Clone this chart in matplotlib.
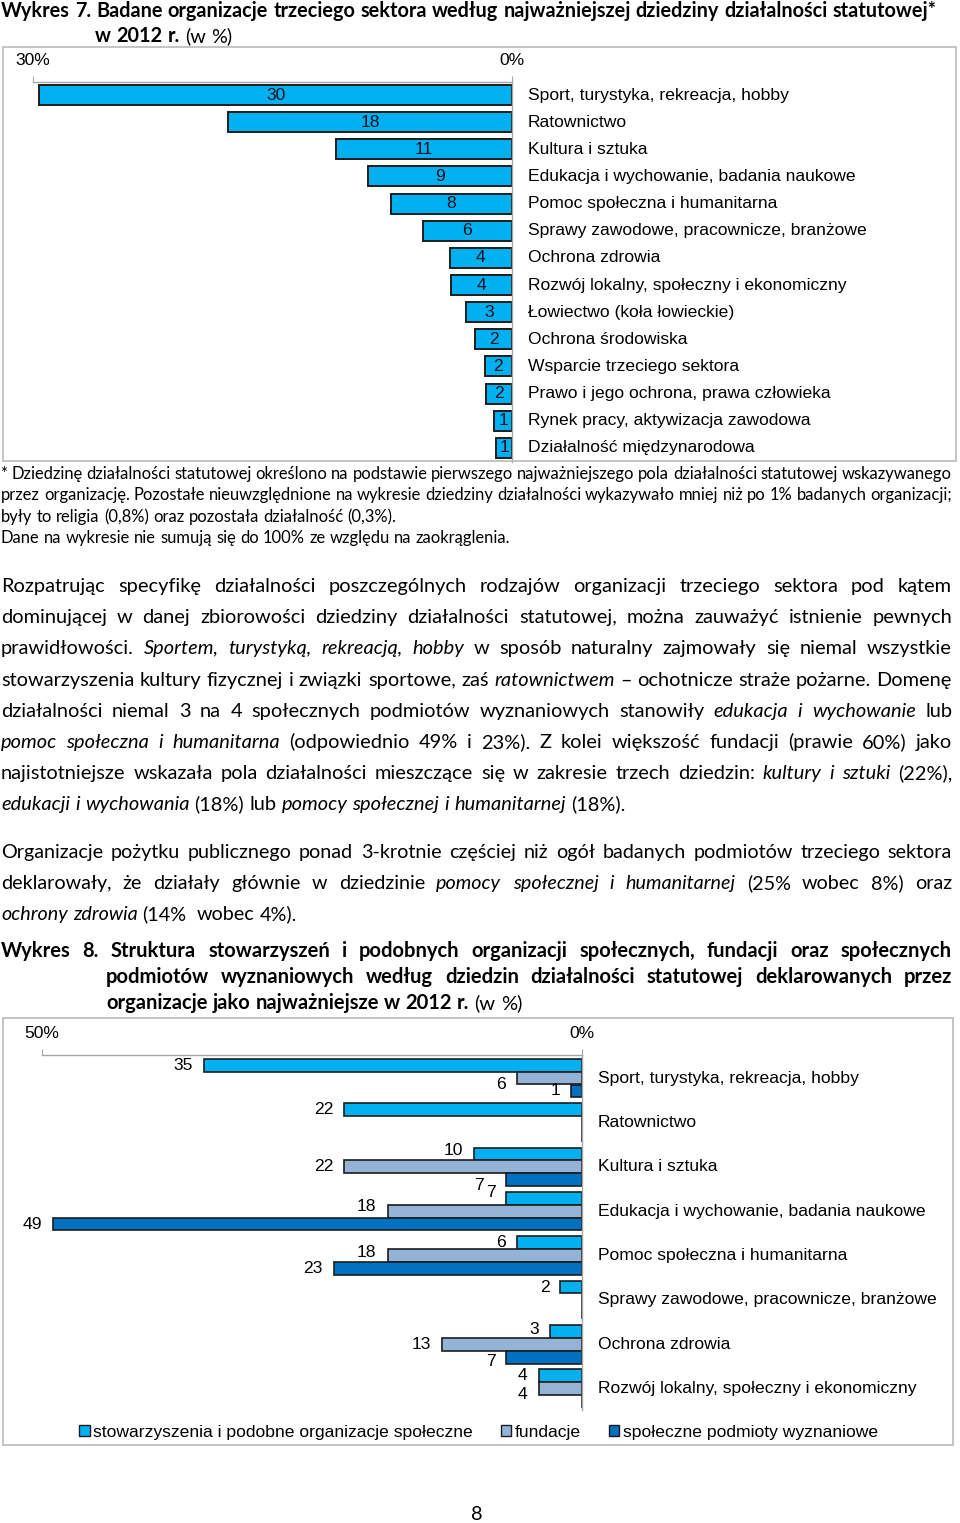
import matplotlib.pyplot as plt
from matplotlib.patches import Rectangle, Patch
from matplotlib.transforms import blended_transform_factory

W, H = 960, 1523

# ---- chart 1 data (Wykres 7) ----
cats1 = ["Sport, turystyka, rekreacja, hobby", "Ratownictwo", "Kultura i sztuka",
         "Edukacja i wychowanie, badania naukowe", "Pomoc społeczna i humanitarna",
         "Sprawy zawodowe, pracownicze, branżowe", "Ochrona zdrowia",
         "Rozwój lokalny, społeczny i ekonomiczny", "Łowiectwo (koła łowieckie)",
         "Ochrona środowiska", "Wsparcie trzeciego sektora",
         "Prawo i jego ochrona, prawa człowieka", "Rynek pracy, aktywizacja zawodowa",
         "Działalność międzynarodowa"]
vals1 = [29.6, 17.8, 11.0, 9.0, 7.6, 5.6, 3.9, 3.8, 2.9, 2.3, 1.7, 1.6, 1.1, 1.0]

# ---- chart 2 data (Wykres 8) ----
cats2 = cats1[:8]
series2 = ["stowarzyszenia i podobne organizacje społeczne", "fundacje",
           "społeczne podmioty wyznaniowe"]
stow = [35, 22, 10, 7, 6, 2, 3, 4]
fund = [6, 0, 22, 18, 18, 0, 13, 4]
wyzn = [1, 0, 7, 49, 23, 0, 7, 0]

# ---- page text (| toggles italic, ^ toggles bold) ----
title7 = ["^Wykres 7. Badane organizacje trzeciego sektora według najważniejszej dziedziny działalności statutowej*^",
          "^w 2012 r.^ (w %)"]
foot = ["* Dziedzinę działalności statutowej określono na podstawie pierwszego najważniejszego pola działalności statutowej wskazywanego",
        "przez organizację. Pozostałe nieuwzględnione na wykresie dziedziny działalności wykazywało mniej niż po 1% badanych organizacji;",
        "były to religia (0,8%) oraz pozostała działalność (0,3%).",
        "Dane na wykresie nie sumują się do 100% ze względu na zaokrąglenia."]
para1 = ["Rozpatrując specyfikę działalności poszczególnych rodzajów organizacji trzeciego sektora pod kątem",
         "dominującej w danej zbiorowości dziedziny działalności statutowej, można zauważyć istnienie pewnych",
         "prawidłowości. |Sportem, turystyką, rekreacją, hobby| w sposób naturalny zajmowały się niemal wszystkie",
         "stowarzyszenia kultury fizycznej i związki sportowe, zaś |ratownictwem| – ochotnicze straże pożarne. Domenę",
         "działalności niemal 3 na 4 społecznych podmiotów wyznaniowych stanowiły |edukacja i wychowanie| lub",
         "|pomoc społeczna i humanitarna| (odpowiednio 49% i 23%). Z kolei większość fundacji (prawie 60%) jako",
         "najistotniejsze wskazała pola działalności mieszczące się w zakresie trzech dziedzin: |kultury i sztuki| (22%),",
         "|edukacji i wychowania| (18%) lub |pomocy społecznej i humanitarnej| (18%)."]
para2 = ["Organizacje pożytku publicznego ponad 3-krotnie częściej niż ogół badanych podmiotów trzeciego sektora",
         "deklarowały, że działały głównie w dziedzinie |pomocy społecznej i humanitarnej| (25% wobec 8%) oraz",
         "|ochrony zdrowia| (14%  wobec 4%)."]
title8 = ["^Wykres 8. Struktura stowarzyszeń i podobnych organizacji społecznych, fundacji oraz społecznych",
          "podmiotów wyznaniowych według dziedzin działalności statutowej deklarowanych przez",
          "organizacje jako najważniejsze w 2012 r.^ (w %)"]

BODY = ['Lato', 'DejaVu Sans']
CHART = ['Liberation Sans', 'DejaVu Sans']
c_stow, c_fund, c_wyzn = '#00B0F0', '#95B3D7', '#0070C0'
edge = '#1c1c1c'
grey = '#A6A6A6'

fig = plt.figure(figsize=(W / 100, H / 100), dpi=100)
rend = fig.canvas.get_renderer()


def fx(px):
    return px / W


def fy(py):
    return 1 - py / H


def parse(line, state):
    bold, ital = state
    out = []
    for tok in line.split(' '):
        if tok == '':
            out.append(None)
            continue
        while tok and tok[0] in '|^':
            if tok[0] == '|':
                ital = not ital
            else:
                bold = not bold
            tok = tok[1:]
        ends = []
        while tok and tok[-1] in '|^':
            ends.append(tok[-1])
            tok = tok[:-1]
        out.append((tok, bold, ital))
        for c in ends:
            if c == '|':
                ital = not ital
            else:
                bold = not bold
    return out, (bold, ital)


def width(s, fs, bold=False, ital=False):
    t = fig.text(0, 0, s, fontsize=fs, family=BODY,
                 fontweight='bold' if bold else 'normal',
                 fontstyle='italic' if ital else 'normal')
    w = t.get_window_extent(renderer=rend).width
    t.remove()
    return w


def space_w(fs):
    return width('a a', fs) - width('aa', fs)


def natural(words, fs):
    real = [w for w in words if w is not None]
    tot = sum(width(w[0], fs, w[1], w[2]) for w in real)
    return tot + space_w(fs) * (len(words) - 1)


def block(lines, x0s, x1, baselines, justify, fit_line=None, fit_x0=0, fit_x1=0,
          tight=1.0):
    state = (False, False)
    parsed = []
    for ln in lines:
        p, state = parse(ln, state)
        parsed.append(p)
    fs = 12.0
    if fit_line is not None:
        fs = fs * (fit_x1 - fit_x0) / natural(parsed[fit_line], fs)
    else:
        # tightest justified line gets (about) normal word spacing
        ratio = max(natural(p, fs) / (x1 - x0) for p, x0, j in zip(parsed, x0s, justify) if j)
        fs = fs / ratio * tight
    sp = space_w(fs)
    for p, x0, yb, jus in zip(parsed, x0s, baselines, justify):
        real = [w for w in p if w is not None]
        ws = [width(w[0], fs, w[1], w[2]) for w in real]
        if jus and len(real) > 1:
            gap = (x1 - x0 - sum(ws)) / (len(real) - 1)
        else:
            gap = sp
        x = x0
        for w in p:
            if w is None:
                x += sp
                continue
            wd = width(w[0], fs, w[1], w[2])
            fig.text(fx(x), fy(yb), w[0], fontsize=fs, family=BODY, color='black',
                     fontweight='bold' if w[1] else 'normal',
                     fontstyle='italic' if w[2] else 'normal',
                     ha='left', va='baseline')
            x += wd + gap
    return fs


# ---- text blocks ----
block(title7, [1, 95], 952, [17, 42], [False, False], 0, 1, 932)
block(foot, [1, 1, 1, 1], 952, [479, 500, 522, 543], [True, True, False, False], tight=1.0)
fs_body = block(para1, [1] * 8, 952, [592 + 31.2 * k for k in range(8)],
                [True] * 7 + [False], tight=0.995)
block(para2, [1] * 3, 952, [858, 889, 920], [True, True, False], tight=0.97)
block(title8, [1, 106, 106], 952, [957, 983, 1009], [True, True, False], 2, 106, 520)
fig.text(fx(477), fy(1520), "8", fontsize=fs_body, family=BODY, ha='center', va='baseline')

# ---- frames ----
for (l, t, r, b) in [(3, 47, 956, 461), (3, 1018, 953, 1445)]:
    fig.add_artist(Rectangle((fx(l), fy(b)), (r - l) / W, (b - t) / H,
                             transform=fig.transFigure, fill=False,
                             edgecolor='#BFBFBF', linewidth=1.3))

lab_fs = 12.6


def style_axis(ax, xmax):
    for s in ['left', 'bottom']:
        ax.spines[s].set_visible(False)
    for s in ['top', 'right']:
        ax.spines[s].set_color(grey)
        ax.spines[s].set_linewidth(1.0)
    ax.xaxis.tick_top()
    ax.set_xticks([xmax, 0])
    ax.set_xticklabels([f"{xmax}%", "0%"], family=CHART, fontsize=lab_fs)
    ax.tick_params(axis='x', length=4, color=grey, pad=6)
    ax.set_yticks([])
    ax.set_facecolor('none')


# ---- chart 1 ----
ax1 = fig.add_axes([fx(33), fy(462), (512 - 33) / W, (462 - 82) / H])
y1 = list(range(len(cats1)))
ax1.barh(y1, vals1, height=0.74, color=c_stow, edgecolor=edge, linewidth=1.4)
ax1.set_xlim(30, 0)
ax1.set_ylim(13.52, -0.479)
style_axis(ax1, 30)
for i, v in enumerate(vals1):
    ax1.text(v / 2, i, f"{v:.0f}", ha='center', va='center', family=CHART,
             fontsize=lab_fs, color='#101020')
tr1 = blended_transform_factory(fig.transFigure, ax1.transData)
for i, c in enumerate(cats1):
    ax1.text(fx(528), i, c, transform=tr1, ha='left', va='center', family=CHART,
             fontsize=lab_fs, color='black')

# ---- chart 2 ----
ax2 = fig.add_axes([fx(42), fy(1410), (582 - 42) / W, (1410 - 1055) / H])
ax2.set_xlim(50, 0)
ax2.set_ylim(7.48, -0.52)
style_axis(ax2, 50)
offs = [-0.29, 0.0, 0.29]
cols = [c_stow, c_fund, c_wyzn]
# label nudges (px right, px down) where the original moved labels apart
nudge = {(0, 1): (0, 6), (2, 0): (0, -3), (2, 2): (-12, 6), (3, 0): (0, -6),
         (3, 1): (0, -5), (4, 1): (0, -3), (6, 0): (0, -2), (6, 2): (0, 4), (7, 1): (0, 6)}
for s, (vals, off, col) in enumerate(zip([stow, fund, wyzn], offs, cols)):
    ys = [i + off for i in range(len(cats2))]
    ax2.barh(ys, vals, height=0.286, color=col, edgecolor=edge, linewidth=1.2,
             label=series2[s])
    for i, v in enumerate(vals):
        if v == 0:
            continue
        dx, dy = nudge.get((i, s), (0, 0))
        ax2.annotate(f"{v:.0f}", (v, ys[i]), xytext=(-11 + dx, -dy),
                     textcoords='offset pixels', ha='right', va='center',
                     family=CHART, fontsize=lab_fs, color='black')
tr2 = blended_transform_factory(fig.transFigure, ax2.transData)
for i, c in enumerate(cats2):
    ax2.text(fx(598), i, c, transform=tr2, ha='left', va='center', family=CHART,
             fontsize=lab_fs, color='black')

handles = [Patch(facecolor=c, edgecolor=edge, linewidth=1.0) for c in cols]
ax2.legend(handles, series2, loc='center left', bbox_to_anchor=(fx(79), fy(1432)),
           bbox_transform=fig.transFigure, ncol=3, frameon=False,
           prop={'family': CHART, 'size': lab_fs}, handlelength=0.6, handleheight=0.6,
           handletextpad=0.2, columnspacing=1.6, borderpad=0, borderaxespad=0)

fig.savefig('out.png', dpi=100)
